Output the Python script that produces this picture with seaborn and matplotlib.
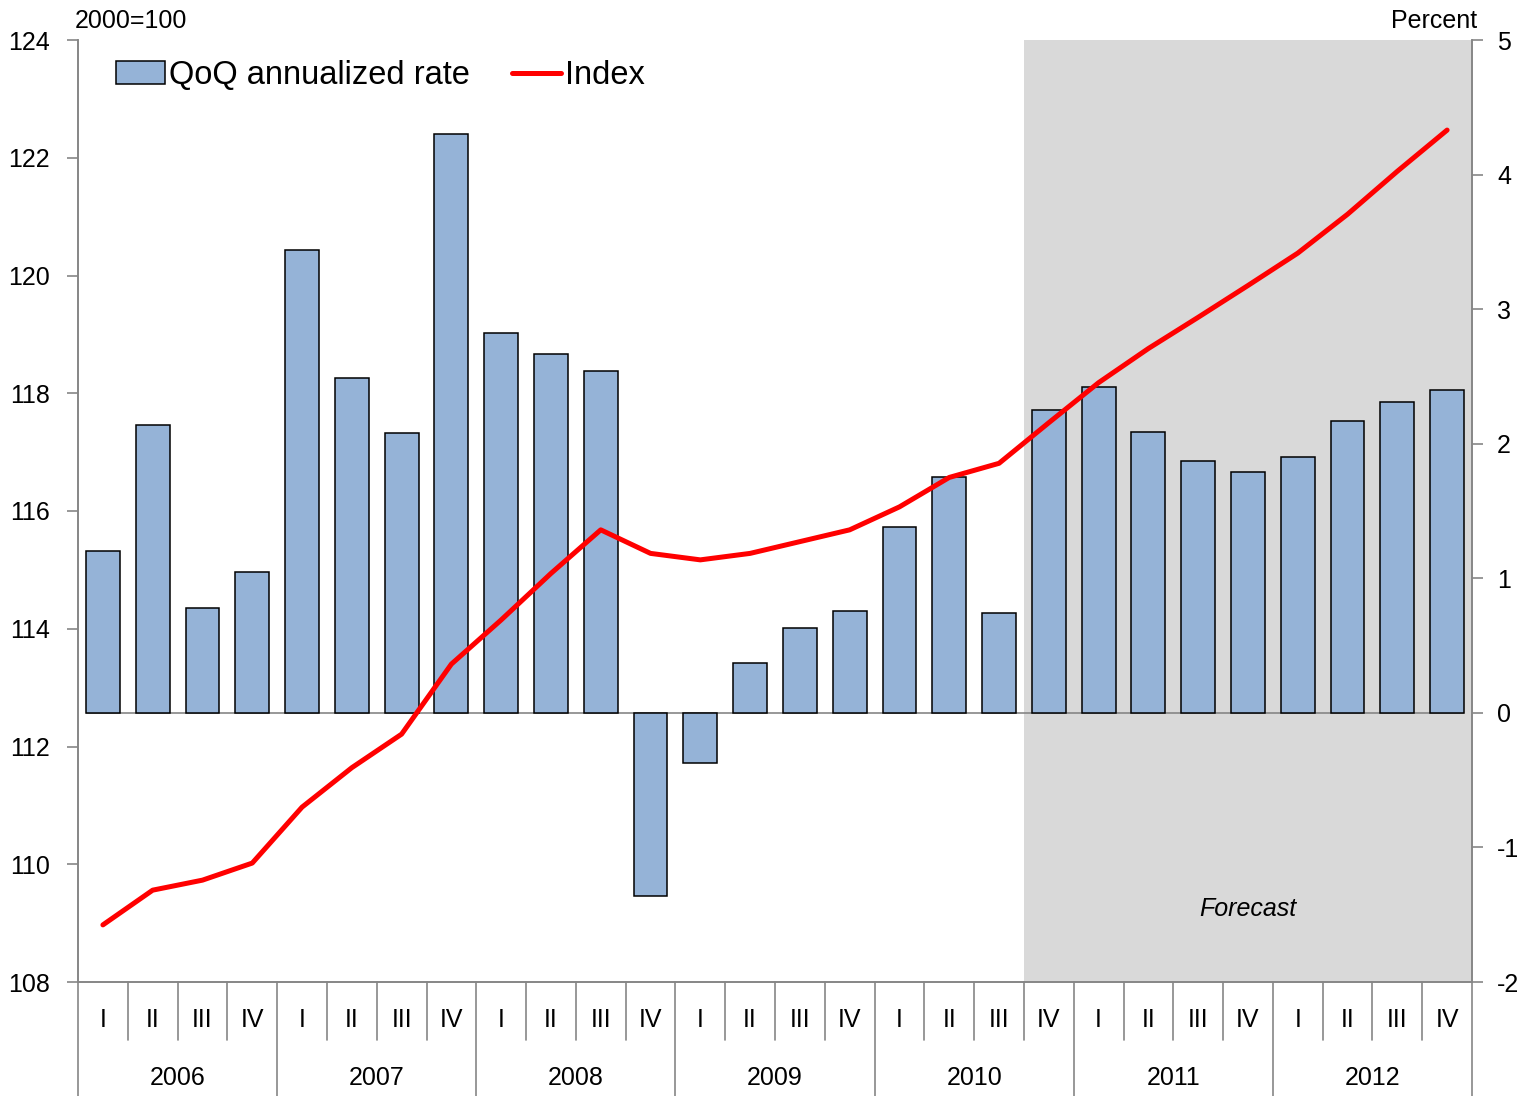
import numpy as np
import pandas as pd
import matplotlib
matplotlib.use("Agg")
import matplotlib.pyplot as plt
from matplotlib.patches import Patch
from matplotlib.lines import Line2D
import seaborn as sns

# data
years = ['2006', '2007', '2008', '2009', '2010', '2011', '2012']
quarters = ['I', 'II', 'III', 'IV']
qoq_rate = [1.20, 2.14, 0.78, 1.05, 3.44, 2.49, 2.08, 4.30,
            2.82, 2.67, 2.54, -1.36, -0.37, 0.37, 0.63, 0.76,
            1.38, 1.75, 0.74, 2.25, 2.42, 2.09, 1.87, 1.79,
            1.90, 2.17, 2.31, 2.40]
index_vals = [108.97, 109.56, 109.73, 110.02, 110.97, 111.64, 112.21, 113.40,
              114.15, 114.94, 115.68, 115.28, 115.17, 115.28, 115.48, 115.68,
              116.07, 116.57, 116.81, 117.50, 118.18, 118.76, 119.29, 119.83,
              120.38, 121.04, 121.77, 122.47]
forecast_start = '2010 IV'

labels = [y + ' ' + q for y in years for q in quarters]
df = pd.DataFrame({'period': labels, 'qoq': qoq_rate, 'index': index_vals})
df['pos'] = np.arange(len(df))

sns.set_style("white")
plt.rcParams['font.family'] = ['Liberation Sans', 'DejaVu Sans']
plt.rcParams['axes.unicode_minus'] = False
plt.rcParams['text.color'] = 'black'
plt.rcParams['ytick.labelcolor'] = 'black'

GRAY = '#868686'
fig = plt.figure(figsize=(15.17, 10.96), dpi=100)
ax = fig.add_axes([78 / 1517, 1 - 982 / 1096, 1394 / 1517, 942 / 1096])
ax2 = ax.twinx()

# forecast shading
fstart = labels.index(forecast_start) - 0.5
ax.axvspan(fstart, len(labels) - 0.5, color='#D9D9D9', zorder=0, lw=0)

# bars on right scale
sns.barplot(data=df, x='period', y='qoq', ax=ax, color='#95B3D7', saturation=1,
            edgecolor='black', linewidth=1.1, width=0.68, zorder=2)
ax.hlines(0, -0.34, len(labels) - 0.66, color=GRAY, lw=1.2, zorder=1.5)
ax.set_ylim(-2, 5)
ax.set_xlim(-0.5, len(labels) - 0.5)

# index line on left scale
sns.lineplot(data=df, x='pos', y='index', ax=ax2, color='red', lw=3.6,
             sort=False, solid_capstyle='round')
ax2.set_ylim(108, 124)
ax2.set_xlim(-0.5, len(labels) - 0.5)

ax.yaxis.tick_right()
ax2.yaxis.tick_left()
ax.set_yticks(range(-2, 6))
ax2.set_yticks(range(108, 125, 2))
for a in (ax, ax2):
    a.set_xlabel('')
    a.set_ylabel('')
    a.set_xticks([])
    a.tick_params(axis='y', direction='out', length=8, width=1.2, color=GRAY,
                  labelsize=18, labelcolor='black')
    for s in a.spines.values():
        s.set_color(GRAY)
        s.set_linewidth(1.2)
    a.spines['top'].set_visible(False)
ax.tick_params(axis='y', pad=10)
ax2.tick_params(axis='y', pad=12)
ax2.patch.set_visible(False)

# category axis: quarter labels and year labels with separators
trans = ax.get_xaxis_transform()
for i, lab in enumerate(labels):
    q = lab.split(' ')[1]
    ax.text(i, -0.0403, q, transform=trans, ha='center', va='center', fontsize=18)
    if i % 4 == 0:
        ax.plot([i - 0.5, i - 0.5], [0, -0.121], transform=trans, color=GRAY,
                lw=1.2, clip_on=False)
    else:
        ax.plot([i - 0.5, i - 0.5], [0, -0.0616], transform=trans, color=GRAY,
                lw=1.2, clip_on=False)
ax.plot([len(labels) - 0.5] * 2, [0, -0.121], transform=trans, color=GRAY,
        lw=1.2, clip_on=False)
for k, y in enumerate(years):
    ax.text(4 * k + 1.5, -0.102, y, transform=trans, ha='center', va='center',
            fontsize=18)

ax.text(23.0, -1.46, 'Forecast', style='italic', fontsize=18, ha='center',
        va='center')

fig.text(75 / 1517, 1 - 21 / 1096, '2000=100', fontsize=18, ha='left', va='center')
fig.text(1477 / 1517, 1 - 21 / 1096, 'Percent', fontsize=18, ha='right', va='center')

handles = [Patch(facecolor='#95B3D7', edgecolor='black', linewidth=1.1),
           Line2D([0], [0], color='red', lw=3.6)]
ax2.legend(handles, ['QoQ annualized rate', 'Index'], loc='center left',
           bbox_to_anchor=(0.027, 0.962), ncol=2, frameon=False, fontsize=23.5,
           handlelength=1.5, handletextpad=0.12, columnspacing=1.3,
           borderaxespad=0, borderpad=0)

fig.savefig('out.png', dpi=100)
